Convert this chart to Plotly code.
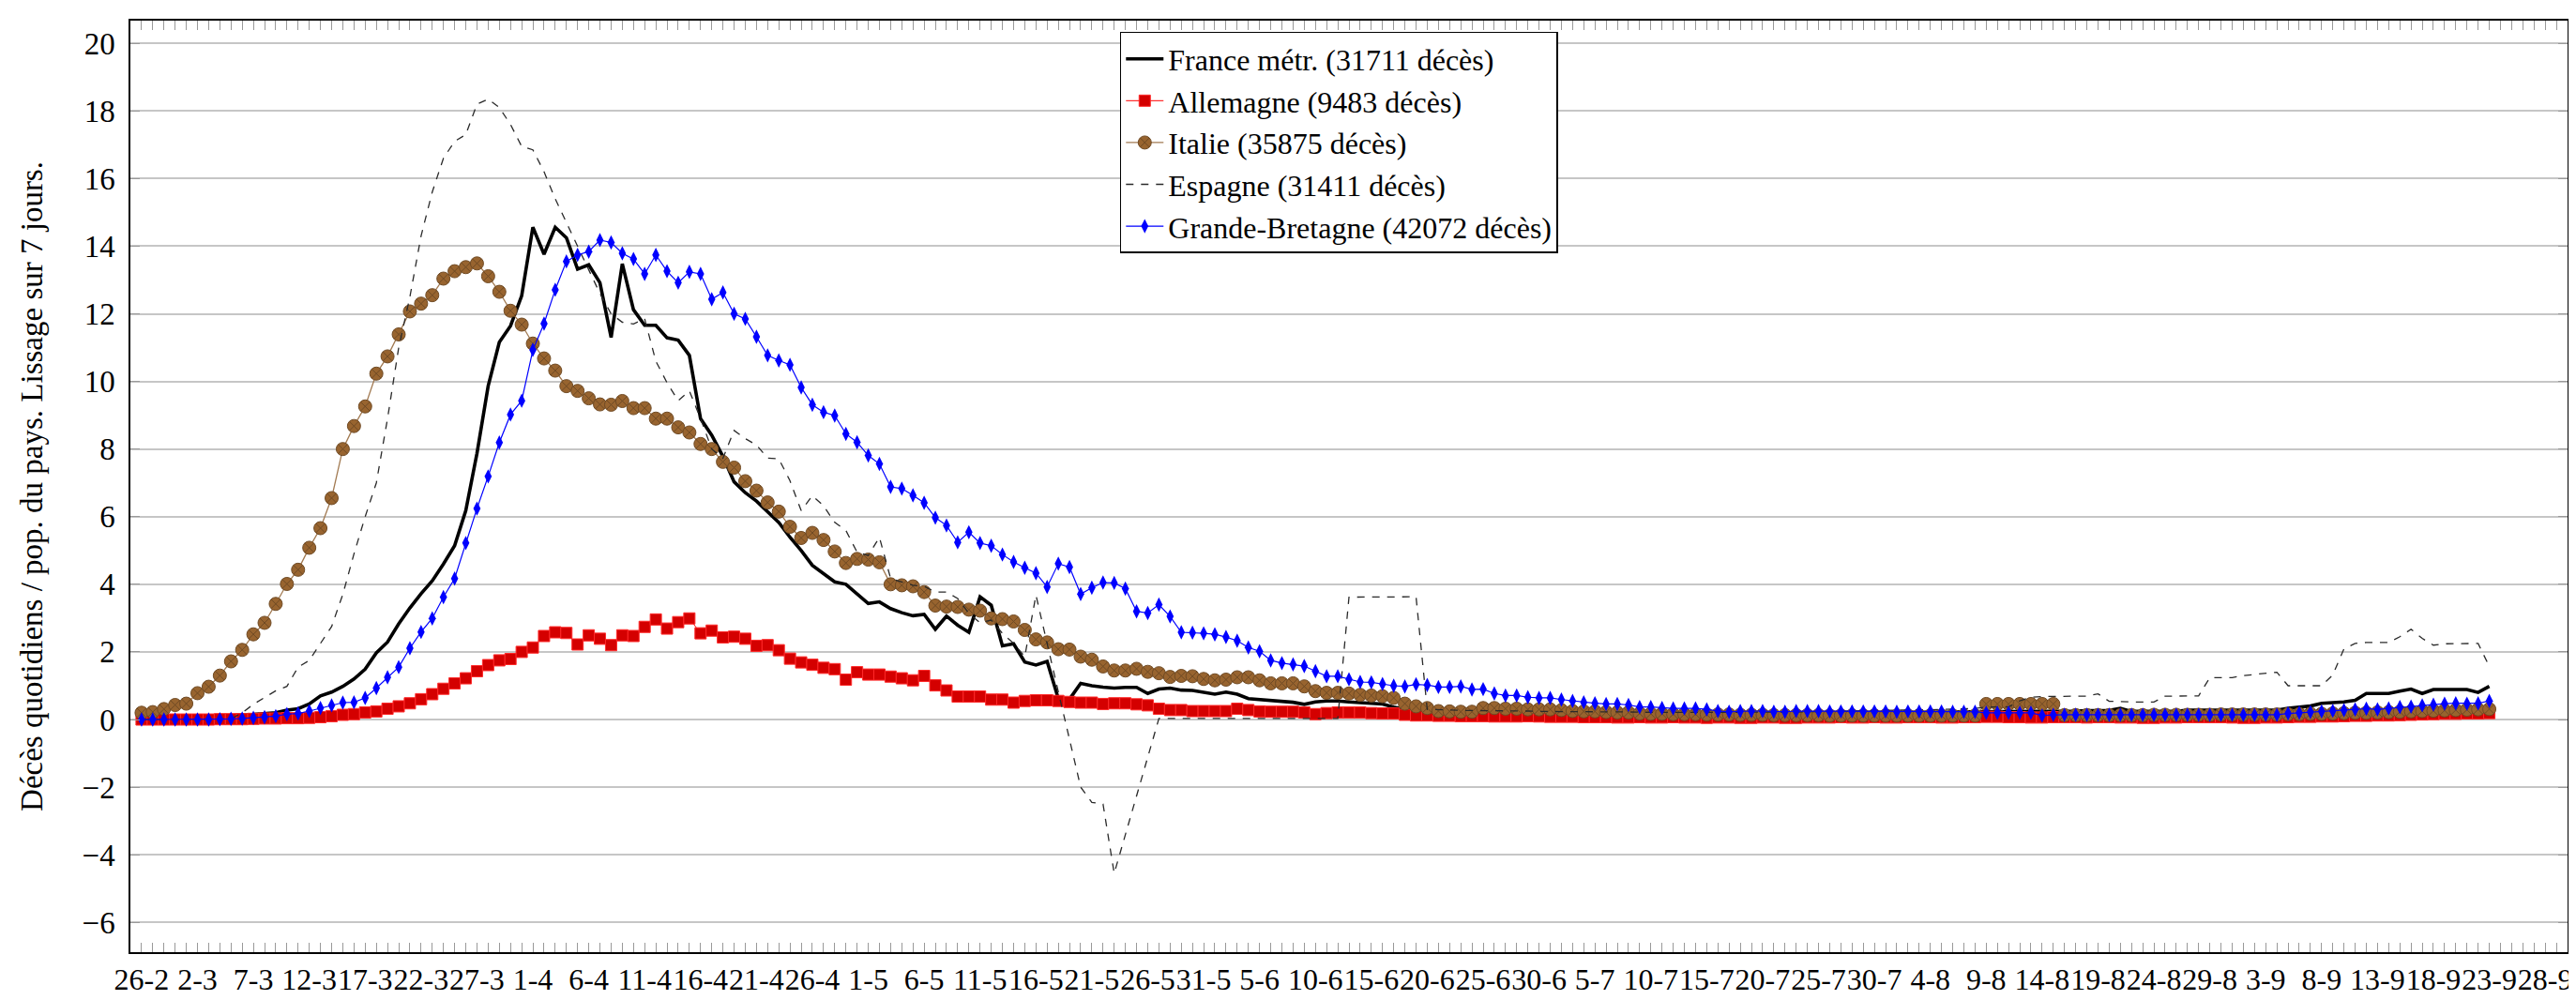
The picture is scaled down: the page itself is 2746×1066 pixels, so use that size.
import plotly.graph_objects as go

days = list(range(211))

tick_days = list(range(0, 216, 5))
tick_labels = ["26-2", "2-3", "7-3", "12-3", "17-3", "22-3", "27-3", "1-4", "6-4", "11-4",
               "16-4", "21-4", "26-4", "1-5", "6-5", "11-5", "16-5", "21-5", "26-5", "31-5",
               "5-6", "10-6", "15-6", "20-6", "25-6", "30-6", "5-7", "10-7", "15-7", "20-7",
               "25-7", "30-7", "4-8", "9-8", "14-8", "19-8", "24-8", "29-8", "3-9", "8-9",
               "13-9", "18-9", "23-9", "28-9"]

france = [0.02, 0.02, 0.02, 0.03, 0.03, 0.04, 0.05, 0.08, 0.12, 0.14,
          0.15, 0.17, 0.2, 0.28, 0.32, 0.46, 0.7, 0.81, 0.98, 1.2,
          1.49, 1.97, 2.29, 2.83, 3.3, 3.72, 4.1, 4.6, 5.14, 6.18,
          7.87, 9.86, 11.16, 11.64, 12.53, 14.56, 13.76, 14.56, 14.25, 13.32,
          13.45, 12.92, 11.3, 13.48, 12.12, 11.66, 11.66, 11.29, 11.22, 10.77,
          8.9, 8.41, 7.78, 7.03, 6.71, 6.46, 6.14, 5.83, 5.39, 5.0,
          4.56, 4.31, 4.07, 4.0, 3.7, 3.43, 3.48, 3.28, 3.16, 3.07,
          3.11, 2.67, 3.06, 2.79, 2.58, 3.63, 3.38, 2.18, 2.24, 1.7,
          1.61, 1.72, 0.62, 0.6, 1.07, 1.0, 0.96, 0.93, 0.95, 0.95,
          0.77, 0.9, 0.93, 0.87, 0.86, 0.81, 0.75, 0.81, 0.75, 0.62,
          0.59, 0.55, 0.54, 0.51, 0.45, 0.52, 0.55, 0.55, 0.52, 0.5,
          0.48, 0.46, 0.37, 0.3, 0.28, 0.27, 0.26, 0.25, 0.25, 0.24,
          0.24, 0.24, 0.23, 0.23, 0.23, 0.22, 0.22, 0.22, 0.21, 0.21,
          0.2, 0.2, 0.2, 0.19, 0.19, 0.2, 0.2, 0.19, 0.19, 0.2,
          0.2, 0.19, 0.19, 0.18, 0.18, 0.19, 0.19, 0.2, 0.2, 0.2,
          0.21, 0.21, 0.2, 0.2, 0.21, 0.21, 0.22, 0.22, 0.21, 0.21,
          0.22, 0.22, 0.22, 0.23, 0.23, 0.23, 0.24, 0.24, 0.24, 0.25,
          0.25, 0.25, 0.25, 0.25, 0.26, 0.26, 0.27, 0.33, 0.24, 0.24,
          0.24, 0.24, 0.24, 0.28, 0.28, 0.28, 0.28, 0.28, 0.28, 0.28,
          0.27, 0.28, 0.33, 0.36, 0.4, 0.48, 0.5, 0.52, 0.57, 0.77,
          0.77, 0.77, 0.84, 0.9, 0.77, 0.89, 0.89, 0.89, 0.89, 0.8, 0.98]

allemagne = [0.0, 0.0, 0.0, 0.0, 0.0, 0.0, 0.0, 0.01, 0.01, 0.01,
             0.02, 0.03, 0.03, 0.04, 0.04, 0.05, 0.07, 0.1, 0.14, 0.16,
             0.21, 0.24, 0.32, 0.39, 0.48, 0.6, 0.75, 0.91, 1.07, 1.22,
             1.43, 1.61, 1.75, 1.79, 2.0, 2.13, 2.47, 2.58, 2.56, 2.22,
             2.49, 2.39, 2.2, 2.49, 2.47, 2.74, 2.96, 2.69, 2.88, 2.99,
             2.55, 2.63, 2.43, 2.45, 2.39, 2.18, 2.2, 2.05, 1.8, 1.69,
             1.62, 1.53, 1.49, 1.18, 1.4, 1.33, 1.33, 1.27, 1.22, 1.16,
             1.29, 1.01, 0.86, 0.68, 0.68, 0.68, 0.59, 0.59, 0.5, 0.55,
             0.57, 0.57, 0.55, 0.52, 0.5, 0.5, 0.46, 0.48, 0.48, 0.45,
             0.42, 0.32, 0.28, 0.28, 0.25, 0.25, 0.25, 0.25, 0.32, 0.28,
             0.24, 0.23, 0.23, 0.23, 0.21, 0.16, 0.19, 0.21, 0.21, 0.21,
             0.19, 0.18, 0.18, 0.14, 0.12, 0.12, 0.11, 0.11, 0.1, 0.1,
             0.1, 0.09, 0.09, 0.09, 0.1, 0.09, 0.08, 0.08, 0.08, 0.07,
             0.07, 0.07, 0.06, 0.06, 0.07, 0.06, 0.06, 0.07, 0.06, 0.06,
             0.05, 0.06, 0.06, 0.05, 0.05, 0.06, 0.06, 0.05, 0.05, 0.06,
             0.06, 0.06, 0.07, 0.06, 0.06, 0.07, 0.06, 0.06, 0.07, 0.07,
             0.07, 0.06, 0.06, 0.07, 0.07, 0.08, 0.08, 0.07, 0.07, 0.06,
             0.06, 0.07, 0.07, 0.07, 0.06, 0.07, 0.07, 0.06, 0.06, 0.05,
             0.05, 0.06, 0.06, 0.07, 0.07, 0.07, 0.07, 0.06, 0.05, 0.05,
             0.06, 0.06, 0.07, 0.08, 0.08, 0.09, 0.09, 0.1, 0.11, 0.11,
             0.12, 0.12, 0.13, 0.14, 0.15, 0.16, 0.17, 0.17, 0.18, 0.18, 0.19]

italie = [0.2, 0.22, 0.31, 0.43, 0.47, 0.78, 0.97, 1.3, 1.72, 2.06,
          2.52, 2.86, 3.42, 4.01, 4.43, 5.08, 5.66, 6.55, 8.0, 8.68,
          9.26, 10.23, 10.74, 11.39, 12.07, 12.3, 12.55, 13.04, 13.26, 13.38,
          13.49, 13.11, 12.65, 12.09, 11.68, 11.12, 10.68, 10.32, 9.86, 9.72,
          9.5, 9.32, 9.31, 9.42, 9.21, 9.21, 8.9, 8.9, 8.64, 8.49,
          8.15, 8.0, 7.62, 7.45, 7.05, 6.77, 6.42, 6.15, 5.7, 5.37,
          5.52, 5.31, 4.97, 4.63, 4.75, 4.73, 4.65, 4.0, 3.97, 3.94,
          3.77, 3.37, 3.34, 3.33, 3.25, 3.22, 2.99, 2.97, 2.9, 2.65,
          2.37, 2.28, 2.08, 2.07, 1.86, 1.77, 1.57, 1.45, 1.45, 1.5,
          1.41, 1.37, 1.26, 1.29, 1.28, 1.2, 1.16, 1.18, 1.25, 1.25,
          1.16, 1.07, 1.07, 1.07, 0.98, 0.84, 0.79, 0.79, 0.77, 0.73,
          0.71, 0.69, 0.64, 0.47, 0.39, 0.34, 0.25, 0.24, 0.23, 0.23,
          0.34, 0.34, 0.32, 0.32, 0.3, 0.3, 0.3, 0.28, 0.25, 0.24,
          0.24, 0.22, 0.21, 0.21, 0.18, 0.17, 0.17, 0.16, 0.16, 0.16,
          0.15, 0.15, 0.15, 0.14, 0.14, 0.14, 0.13, 0.13, 0.13, 0.13,
          0.13, 0.12, 0.12, 0.12, 0.12, 0.12, 0.12, 0.12, 0.12, 0.12,
          0.12, 0.12, 0.12, 0.12, 0.12, 0.46, 0.46, 0.46, 0.46, 0.46,
          0.46, 0.46, 0.13, 0.13, 0.13, 0.13, 0.13, 0.13, 0.13, 0.13,
          0.14, 0.14, 0.14, 0.14, 0.14, 0.14, 0.15, 0.15, 0.15, 0.15,
          0.15, 0.15, 0.16, 0.16, 0.17, 0.17, 0.18, 0.19, 0.2, 0.2,
          0.21, 0.22, 0.23, 0.24, 0.25, 0.26, 0.27, 0.28, 0.29, 0.3, 0.31]

espagne = [0.0, 0.0, 0.0, 0.0, 0.0, 0.0, 0.0, 0.0, 0.02, 0.2,
           0.45, 0.65, 0.85, 0.98, 1.55, 1.75, 2.25, 2.75, 3.7, 4.9,
           6.0, 7.0, 8.9, 11.0, 12.5, 14.3, 15.6, 16.6, 17.1, 17.3,
           18.2, 18.35, 18.1, 17.6, 16.95, 16.85, 16.2, 15.4, 14.7, 14.0,
           13.3, 12.6, 12.0, 11.75, 11.7, 11.85, 10.6, 9.96, 9.43, 9.72,
           8.9, 8.0, 7.73, 8.55, 8.31, 8.12, 7.73, 7.71, 7.06, 6.18,
           6.62, 6.32, 5.83, 5.59, 4.95, 4.85, 5.39, 4.17, 4.07, 3.97,
           3.94, 3.77, 3.77, 3.58, 3.14, 2.86, 2.94, 2.55, 2.25, 1.86,
           3.68, 2.22, 0.82, -0.58, -2.0, -2.45, -2.5, -4.55, -3.4, -2.25,
           -1.1, 0.03, 0.03, 0.03, 0.03, 0.03, 0.03, 0.03, 0.03, 0.03,
           0.03, 0.03, 0.03, 0.03, 0.03, 0.03, 0.03, 0.03, 3.62, 3.62,
           3.62, 3.62, 3.62, 3.62, 3.63, 0.3, 0.28, 0.28, 0.27, 0.27,
           0.26, 0.26, 0.25, 0.25, 0.25, 0.24, 0.24, 0.24, 0.23, 0.23,
           0.23, 0.22, 0.22, 0.22, 0.22, 0.21, 0.21, 0.21, 0.21, 0.2,
           0.2, 0.2, 0.2, 0.2, 0.2, 0.21, 0.21, 0.22, 0.22, 0.23,
           0.23, 0.24, 0.25, 0.25, 0.26, 0.27, 0.27, 0.28, 0.28, 0.29,
           0.29, 0.3, 0.3, 0.31, 0.33, 0.37, 0.37, 0.37, 0.55, 0.66,
           0.68, 0.69, 0.69, 0.69, 0.69, 0.76, 0.54, 0.52, 0.52, 0.52,
           0.52, 0.69, 0.7, 0.7, 0.7, 1.24, 1.24, 1.24, 1.3, 1.33,
           1.36, 1.4, 1.0, 1.0, 1.0, 1.0, 1.32, 2.09, 2.25, 2.28,
           2.28, 2.28, 2.45, 2.67, 2.4, 2.2, 2.24, 2.24, 2.24, 2.25, 1.57]

bretagne = [0.0, 0.0, 0.0, 0.0, 0.0, 0.0, 0.0, 0.01, 0.02, 0.03,
            0.05, 0.07, 0.1, 0.16, 0.18, 0.25, 0.34, 0.42, 0.5, 0.51,
            0.64, 0.93, 1.25, 1.55, 2.11, 2.59, 2.99, 3.62, 4.17, 5.22,
            6.24, 7.19, 8.19, 9.02, 9.43, 10.93, 11.71, 12.71, 13.55, 13.74,
            13.84, 14.18, 14.11, 13.79, 13.62, 13.18, 13.74, 13.26, 12.92, 13.24,
            13.18, 12.43, 12.63, 12.0, 11.85, 11.32, 10.77, 10.62, 10.49, 9.82,
            9.31, 9.09, 8.99, 8.45, 8.2, 7.81, 7.56, 6.88, 6.83, 6.63,
            6.41, 5.97, 5.74, 5.24, 5.54, 5.22, 5.14, 4.88, 4.66, 4.49,
            4.33, 3.92, 4.61, 4.51, 3.71, 3.9, 4.05, 4.04, 3.87, 3.2,
            3.15, 3.4, 3.05, 2.58, 2.57, 2.55, 2.52, 2.44, 2.33, 2.13,
            2.02, 1.75, 1.67, 1.63, 1.58, 1.43, 1.28, 1.28, 1.19, 1.11,
            1.1, 1.05, 1.0, 0.98, 1.04, 1.02, 0.96, 0.96, 0.98, 0.89,
            0.9, 0.77, 0.71, 0.71, 0.66, 0.64, 0.64, 0.59, 0.55, 0.51,
            0.48, 0.46, 0.46, 0.43, 0.37, 0.37, 0.34, 0.33, 0.33, 0.33,
            0.3, 0.25, 0.23, 0.25, 0.25, 0.25, 0.23, 0.23, 0.25, 0.25,
            0.25, 0.24, 0.24, 0.24, 0.24, 0.24, 0.24, 0.23, 0.24, 0.24,
            0.24, 0.24, 0.23, 0.23, 0.23, 0.2, 0.2, 0.2, 0.2, 0.2,
            0.12, 0.14, 0.14, 0.14, 0.14, 0.14, 0.14, 0.14, 0.14, 0.14,
            0.14, 0.14, 0.14, 0.14, 0.14, 0.14, 0.14, 0.14, 0.14, 0.14,
            0.14, 0.14, 0.18, 0.2, 0.22, 0.24, 0.26, 0.28, 0.3, 0.32,
            0.3, 0.33, 0.37, 0.38, 0.42, 0.44, 0.47, 0.48, 0.47, 0.48, 0.55]

FONT = "Liberation Serif"

fig = go.Figure()
fig.add_trace(go.Scatter(x=days, y=france, mode="lines",
                         name="France métr. (31711 décès)",
                         line=dict(color="black", width=3.6)))
fig.add_trace(go.Scatter(x=days, y=allemagne, mode="lines+markers",
                         name="Allemagne (9483 décès)",
                         line=dict(color="#ff0000", width=1),
                         marker=dict(symbol="square", size=12, color="#d40000",
                                     line=dict(color="#ff2a2a", width=1))))
fig.add_trace(go.Scatter(x=days, y=italie, mode="lines+markers",
                         name="Italie (35875 décès)",
                         line=dict(color="#a27a52", width=1.3),
                         marker=dict(symbol="circle-x", size=14, color="#98642f",
                                     line=dict(color="#6f4a24", width=1))))
fig.add_trace(go.Scatter(x=days, y=espagne, mode="lines",
                         name="Espagne (31411 décès)",
                         line=dict(color="#2a2a2a", width=1.3, dash="8px,8px")))
fig.add_trace(go.Scatter(x=days, y=bretagne, mode="lines+markers",
                         name="Grande-Bretagne (42072 décès)",
                         line=dict(color="#0000ff", width=1.2),
                         marker=dict(symbol="diamond-tall", size=11, color="#0000ff",
                                     line=dict(width=0))))

fig.update_layout(
    width=2746, height=1066,
    margin=dict(l=131, r=14, t=12, b=39),
    paper_bgcolor="white", plot_bgcolor="white",
    font=dict(family=FONT, size=31, color="black"),
    showlegend=True,
    legend=dict(x=0.406, y=0.988, xanchor="left", yanchor="top",
                bgcolor="white", bordercolor="black", borderwidth=1.5,
                font=dict(family=FONT, size=32), tracegroupgap=0,
                itemwidth=40),
)

fig.update_xaxes(
    range=[-1, 217],
    tickmode="array", tickvals=tick_days, ticktext=tick_labels, tickangle=0,
    ticks="inside", ticklen=10, tickcolor="#999999", tickwidth=1,
    minor=dict(tickmode="linear", tick0=0, dtick=1, ticks="inside", ticklen=10,
               tickcolor="#999999", tickwidth=1, showgrid=False),
    showgrid=False, zeroline=False,
    showline=True, linecolor="black", linewidth=1.5, mirror="allticks",
    tickfont=dict(family=FONT, size=32),
)

fig.update_yaxes(
    range=[-6.88, 20.67],
    tickmode="array", tickvals=[-6, -4, -2, 0, 2, 4, 6, 8, 10, 12, 14, 16, 18, 20],
    ticktext=["−6", "−4", "−2", "0", "2", "4", "6", "8", "10", "12", "14", "16", "18", "20"],
    ticks="inside", ticklen=10, tickcolor="#999999",
    showgrid=True, gridcolor="#c6c6c6", gridwidth=1.5, zeroline=False,
    showline=True, linecolor="black", linewidth=1.5, mirror="allticks",
    tickfont=dict(family=FONT, size=33),
    ticklabelstandoff=8,
    title=dict(text="Décès quotidiens / pop. du pays. Lissage sur 7 jours.",
               font=dict(family=FONT, size=33), standoff=32),
)

fig.write_html("out.html")
